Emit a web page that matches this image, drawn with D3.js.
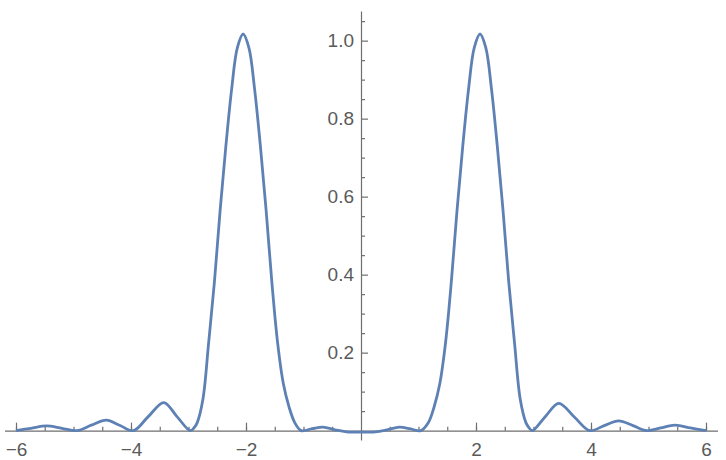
<!DOCTYPE html>
<html>
<head>
<meta charset="utf-8">
<script src="https://cdnjs.cloudflare.com/ajax/libs/d3/7.8.5/d3.min.js"></script>
<style>
  body { margin: 0; background: #fff; }
  .tick text { font-family: "Liberation Sans", Arial, sans-serif; font-size: 19px; fill: #5a5a5a; }
  .domain, .tick line { stroke: #6e6e6e; stroke-width: 1.2; }
</style>
</head>
<body>
<div id="chart"></div>
<script>
// curve points (left lobes, left peak, centre, right peak, right lobes)
var xValues = [-6.0, -5.74, -5.47, -5.2, -4.94, -4.69, -4.43, -4.2, -3.96, -3.7, -3.43, -3.2,
    -2.97, -2.9, -2.85, -2.75, -2.65, -2.55, -2.45, -2.35, -2.25, -2.15, -2.05,
    -1.95, -1.85, -1.75, -1.65, -1.55, -1.45, -1.35, -1.25, -1.15, -1.04,
    -0.85, -0.66, -0.45, -0.25, 0, 0.25, 0.45, 0.67, 0.85,
    1.04, 1.17, 1.27, 1.37, 1.47, 1.57, 1.67, 1.77, 1.87, 1.97, 2.07,
    2.17, 2.27, 2.37, 2.47, 2.57, 2.67, 2.77, 2.87, 2.92, 2.98,
    3.2, 3.44, 3.71, 3.98, 4.23, 4.48, 4.73, 4.97, 5.21, 5.46, 5.73, 6.0];
var yValues = [0.0, 0.006, 0.012, 0.006, 0.0, 0.014, 0.027, 0.014, 0.0, 0.036, 0.072, 0.036,
    0.0, 0.008, 0.02, 0.08, 0.225, 0.38, 0.565, 0.73, 0.875, 0.982, 1.017,
    0.982, 0.875, 0.73, 0.565, 0.38, 0.225, 0.12, 0.06, 0.02, 0.0,
    0.005, 0.009, 0.002, -0.003, -0.004, -0.003, 0.002, 0.009, 0.005,
    0.0, 0.02, 0.06, 0.12, 0.225, 0.38, 0.565, 0.73, 0.875, 0.982, 1.017,
    0.982, 0.875, 0.73, 0.565, 0.38, 0.225, 0.08, 0.02, 0.008, 0.0,
    0.035, 0.07, 0.035, 0.0, 0.013, 0.025, 0.013, 0.0, 0.007, 0.014, 0.007, 0.0];

var xMajorTicks = [-6, -4, -2, 2, 4, 6];
var xMinorTicks = [-6, -5.5, -5, -4.5, -4, -3.5, -3, -2.5, -2, -1.5, -1, -0.5, 0.5, 1, 1.5, 2, 2.5, 3, 3.5, 4, 4.5, 5, 5.5, 6];
var yMajorTicks = [0.2, 0.4, 0.6, 0.8, 1.0];
var yMinorTicks = [0.05, 0.1, 0.15, 0.25, 0.3, 0.35, 0.45, 0.5, 0.55, 0.65, 0.7, 0.75, 0.85, 0.9, 0.95, 1.05];

var svgWidth = 726;
var svgHeight = 460;

var data = xValues.map(function(x, i) { return { x: x, y: yValues[i] }; });

var svg = d3.select("#chart")
    .append("svg")
    .attr("width", svgWidth)
    .attr("height", svgHeight);

var xScale = d3.scaleLinear()
    .domain([-6.2, 6.2])
    .range([4.5, 717.5]);

var yScale = d3.scaleLinear()
    .domain([-0.024, 1.076])
    .range([440, 11]);

var x0 = xScale(0);
var y0 = yScale(0);

// x axis: ticks point up, labels below
svg.append("g")
    .attr("transform", `translate(0, ${y0})`)
    .call(d3.axisBottom(xScale).tickValues(xMinorTicks).tickSize(-4).tickSizeOuter(0).tickFormat(""));

svg.append("g")
    .attr("transform", `translate(0, ${y0})`)
    .call(d3.axisBottom(xScale).tickValues(xMajorTicks).tickSize(-8).tickSizeOuter(0).tickPadding(12)
        .tickFormat(d3.format("d")))
    .select(".domain").remove();

// y axis: ticks point right, labels left
svg.append("g")
    .attr("transform", `translate(${x0}, 0)`)
    .call(d3.axisLeft(yScale).tickValues(yMinorTicks).tickSize(-4).tickSizeOuter(0).tickFormat(""));

svg.append("g")
    .attr("transform", `translate(${x0}, 0)`)
    .call(d3.axisLeft(yScale).tickValues(yMajorTicks).tickSize(-7).tickSizeOuter(0).tickPadding(7)
        .tickFormat(d3.format(".1f")))
    .select(".domain").remove();

var line = d3.line()
    .x(d => xScale(d.x))
    .y(d => yScale(d.y))
    .curve(d3.curveCatmullRom.alpha(0.5));

svg.append("path")
    .datum(data)
    .attr("fill", "none")
    .attr("stroke", "#5e81b5")
    .attr("stroke-width", 2.8)
    .attr("stroke-linejoin", "round")
    .attr("d", line);
</script>
</body>
</html>
